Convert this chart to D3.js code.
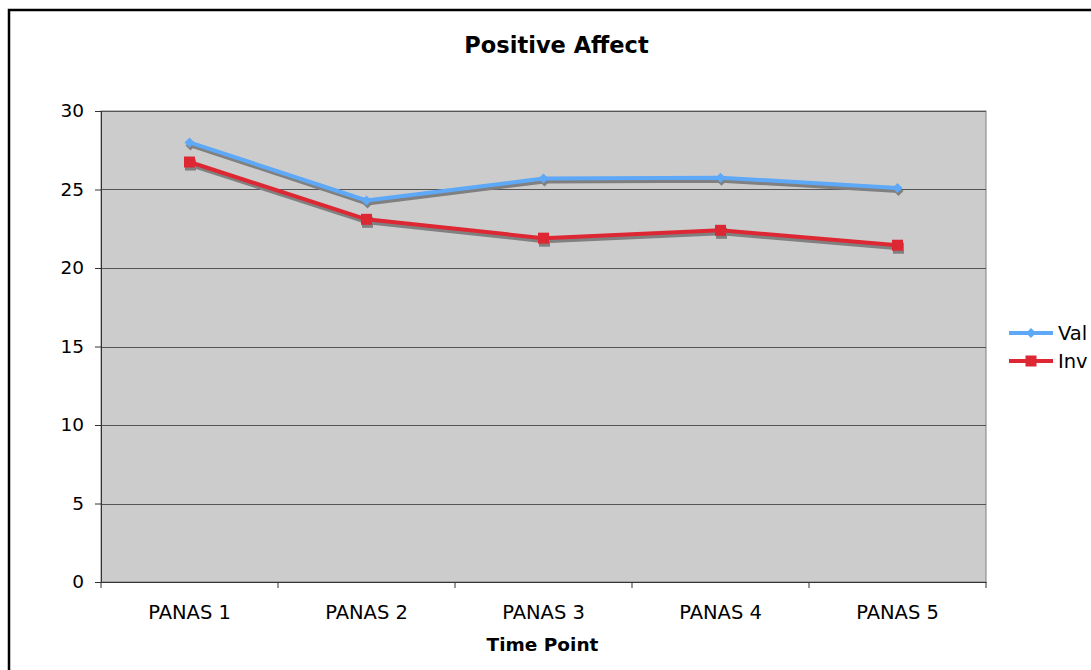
<!DOCTYPE html>
<html><head><meta charset="utf-8">
<script src="https://cdn.jsdelivr.net/npm/d3@7"></script>
<style>body{margin:0;background:#fff;} svg{display:block;font-family:"DejaVu Sans",Verdana,sans-serif;}</style>
</head><body>
<svg id="c" width="1091" height="670"></svg>
<script>
const categories = ["PANAS 1","PANAS 2","PANAS 3","PANAS 4","PANAS 5"];
const valValues = [28.0, 24.3, 25.7, 25.75, 25.1];
const invValues = [26.75, 23.1, 21.9, 22.4, 21.45];
const yTicks = [0,5,10,15,20,25,30];
const seriesNames = ["Val","Inv"];

const svg = d3.select("#c");
const m = {left:101, right:986, top:111, bottom:582};
const FONT = "DejaVu Sans, Verdana, sans-serif";

svg.append("rect").attr("x",9).attr("y",10).attr("width",1200).attr("height",800)
  .attr("fill","#fff").attr("stroke","#000").attr("stroke-width",2.5);

const x = d3.scaleBand().domain(categories).range([m.left,m.right]);
const y = d3.scaleLinear().domain([0,30]).range([m.bottom,m.top]);

svg.append("rect").attr("x",m.left).attr("y",m.top).attr("width",m.right-m.left).attr("height",m.bottom-m.top)
  .attr("fill","#cccccc").attr("stroke","#808080").attr("stroke-width",1);

// gridlines
svg.append("g").selectAll("line").data(yTicks.filter(d=>d>0)).join("line")
  .attr("x1",m.left).attr("x2",m.right).attr("y1",d=>Math.round(y(d))+0.5).attr("y2",d=>Math.round(y(d))+0.5)
  .attr("stroke","#555").attr("stroke-width",1);

// y axis
const ya = svg.append("g").attr("transform",`translate(${m.left},0)`)
  .call(d3.axisLeft(y).tickValues(yTicks).tickSize(6).tickPadding(11));
ya.attr("font-size",null).attr("font-family",null);
ya.select(".domain").attr("stroke","#333");
ya.selectAll(".tick line").attr("stroke","#333");
ya.selectAll("text").attr("font-size",18.5).attr("fill","#000").attr("font-family",FONT);

// x axis
const xa = svg.append("g").attr("transform",`translate(0,${m.bottom})`)
  .call(d3.axisBottom(x).tickSize(0).tickPadding(23));
xa.attr("font-size",null).attr("font-family",null);
xa.select(".domain").attr("stroke","#333");
xa.selectAll("text").attr("font-size",19.5).attr("fill","#000").attr("font-family",FONT);
svg.append("g").selectAll("line").data(d3.range(categories.length+1)).join("line")
  .attr("x1",i=>m.left+i*x.step()).attr("x2",i=>m.left+i*x.step())
  .attr("y1",m.bottom).attr("y2",m.bottom+6).attr("stroke","#333");

// titles
svg.append("text").attr("x",556.5).attr("y",53).attr("text-anchor","middle")
  .attr("font-size",22.5).attr("font-weight","bold").text("Positive Affect");
svg.append("text").attr("x",542.5).attr("y",651).attr("text-anchor","middle")
  .attr("font-size",18.5).attr("font-weight","bold").text("Time Point");

const cx = d => x(d)+x.bandwidth()/2;
const line = d3.line().x(d=>cx(d.c)).y(d=>y(d.v));
const series = [
  {name:seriesNames[0], vals:valValues, color:"#5ea8f8", marker:"diamond"},
  {name:seriesNames[1], vals:invValues, color:"#dd2834", marker:"square"}
];

function drawMarker(g, kind, px, py, fill){
  if(kind==="diamond"){
    g.append("path").attr("d",`M${px},${py-5}L${px+5},${py}L${px},${py+5}L${px-5},${py}Z`).attr("fill",fill);
  } else {
    g.append("rect").attr("x",px-5.5).attr("y",py-5.5).attr("width",11).attr("height",11).attr("fill",fill);
  }
}

// shadows
series.forEach(s=>{
  const data = categories.map((c,i)=>({c, v:s.vals[i]}));
  const g = svg.append("g").attr("transform","translate(1,3)");
  g.append("path").datum(data).attr("d",line).attr("fill","none").attr("stroke","#808080").attr("stroke-width",4).attr("stroke-linejoin","round");
  data.forEach(d=>drawMarker(g,s.marker,cx(d.c),y(d.v),"#808080"));
});
series.forEach(s=>{
  const data = categories.map((c,i)=>({c, v:s.vals[i]}));
  const g = svg.append("g");
  g.append("path").datum(data).attr("d",line).attr("fill","none").attr("stroke",s.color).attr("stroke-width",4).attr("stroke-linejoin","round");
  data.forEach(d=>drawMarker(g,s.marker,cx(d.c),y(d.v),s.color));
});

// legend
series.forEach((s,i)=>{
  const ly = 333 + i*28;
  const g = svg.append("g");
  g.append("line").attr("x1",1009).attr("x2",1053).attr("y1",ly).attr("y2",ly).attr("stroke",s.color).attr("stroke-width",4);
  drawMarker(g,s.marker,1031,ly,s.color);
  g.append("text").attr("x",1058).attr("y",ly+6.5).attr("font-size",19.5).attr("font-family",FONT).text(s.name);
});
</script>
</body></html>
